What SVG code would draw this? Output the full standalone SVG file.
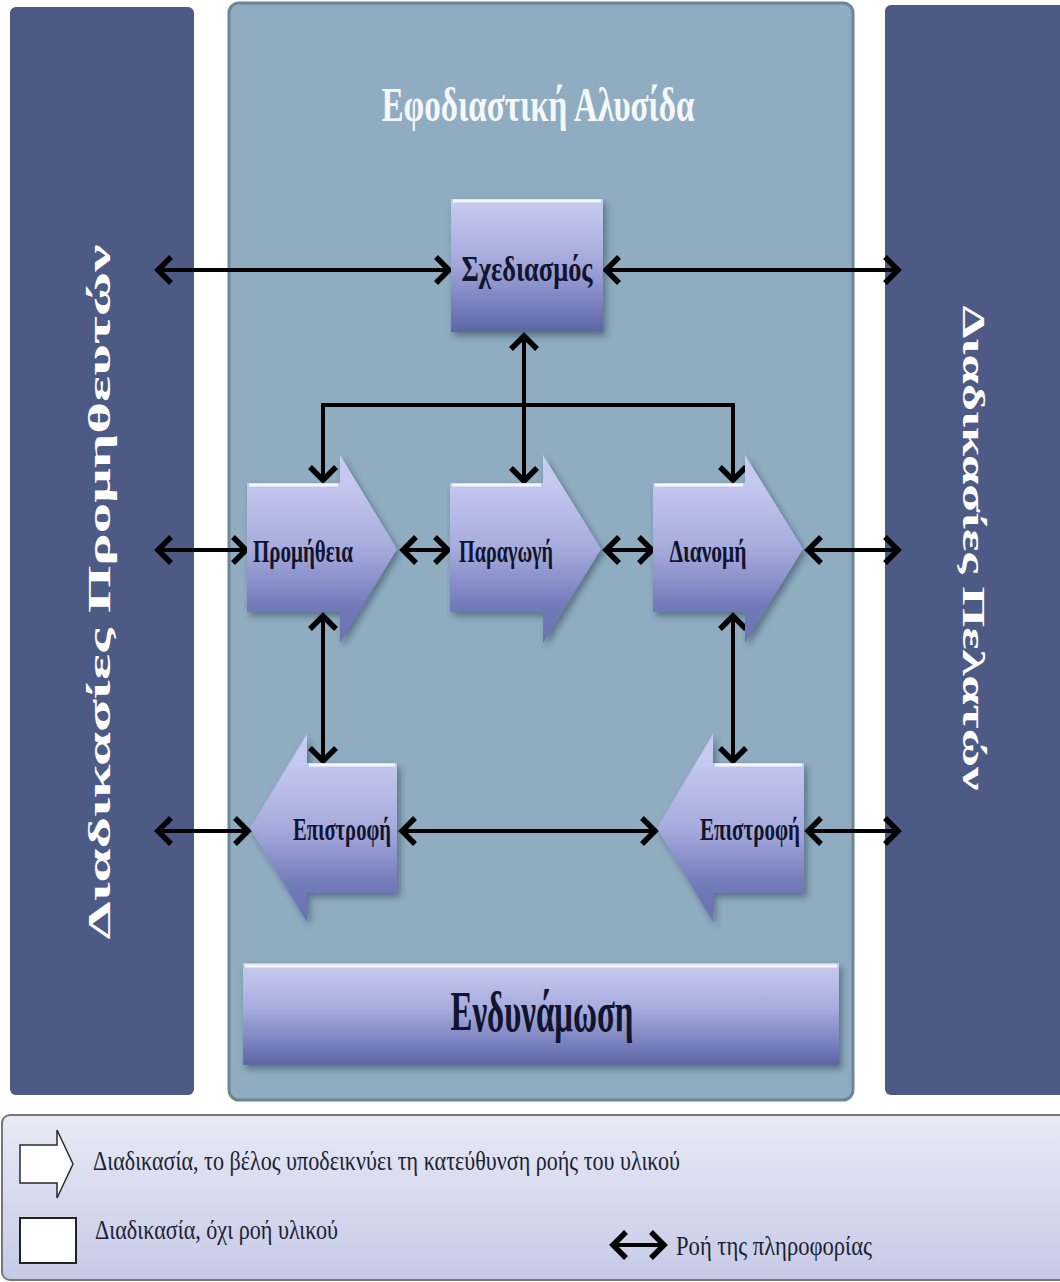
<svg xmlns="http://www.w3.org/2000/svg" width="1060" height="1282" viewBox="0 0 1060 1282">
  <defs>
    <style>
      .side { fill: #4e5a86; }
      .sidetxt { font-family: "Liberation Serif", "DejaVu Serif", serif; font-weight: bold; font-size: 31px; fill: #ffffff; }
      .title { font-family: "Liberation Serif", "DejaVu Serif", serif; font-weight: bold; font-size: 48px; fill: #f4f8fb; }
      .lbl { font-family: "Liberation Serif", "DejaVu Serif", serif; font-weight: bold; font-size: 31px; fill: #10142e; text-anchor: middle; }
      .lbl-m { font-size: 36px; }
      .lbl-l { font-size: 56px; }
      .node { stroke: none; filter: url(#shadow); }
      .hl { stroke: #ffffff; stroke-width: 3; stroke-opacity: 0.85; fill: none; }
      .conn { stroke: #000000; stroke-width: 4; fill: none; marker-start: url(#chev); marker-end: url(#chev); }
      .leg { font-family: "Liberation Serif", "DejaVu Serif", serif; font-size: 27px; fill: #1c1f33; }
    </style>
    <linearGradient id="gBox" x1="0" y1="0" x2="0" y2="1">
      <stop offset="0" stop-color="#c9ccf0"/>
      <stop offset="0.45" stop-color="#a6abdd"/>
      <stop offset="0.85" stop-color="#7178b8"/>
      <stop offset="1" stop-color="#5d66a3"/>
    </linearGradient>
    <linearGradient id="gArrow" x1="0" y1="0" x2="0" y2="1">
      <stop offset="0" stop-color="#c9ccf0"/>
      <stop offset="0.16" stop-color="#c4c7ee"/>
      <stop offset="0.5" stop-color="#a6abdd"/>
      <stop offset="0.8" stop-color="#737ab9"/>
      <stop offset="1" stop-color="#6a72b2"/>
    </linearGradient>
    <linearGradient id="gLegend" x1="0" y1="0" x2="0" y2="1">
      <stop offset="0" stop-color="#e8eaf5"/>
      <stop offset="1" stop-color="#c6cae6"/>
    </linearGradient>
    <filter id="shadow" x="-10%" y="-10%" width="130%" height="130%">
      <feDropShadow dx="3" dy="4" stdDeviation="3" flood-color="#1e2a40" flood-opacity="0.45"/>
    </filter>
    <marker id="chev" markerUnits="userSpaceOnUse" viewBox="0 0 24 34" markerWidth="24" markerHeight="34" refX="19" refY="17" orient="auto-start-reverse" overflow="visible">
      <path d="M6,4 L19,17 L6,30" fill="none" stroke="#000000" stroke-width="5.5" stroke-linejoin="miter"/>
    </marker>
  </defs>

  <rect width="1060" height="1282" fill="#ffffff"/>

  <!-- side panels and main panel -->
  <g id="supplier-panel">
    <rect class="side" x="10" y="7" width="184" height="1088" rx="6"/>
    <text class="sidetxt" transform="translate(110,592) rotate(-90)" text-anchor="middle" textLength="695" lengthAdjust="spacingAndGlyphs">Διαδικασίες  Προμηθευτών</text>
  </g>
  <g id="customer-panel">
    <rect class="side" x="885" y="5" width="190" height="1090" rx="6"/>
    <text class="sidetxt" transform="translate(963,548) rotate(90)" text-anchor="middle" textLength="485" lengthAdjust="spacingAndGlyphs">Διαδικασίες  Πελατών</text>
  </g>
  <g id="supply-chain-panel">
    <rect x="229" y="3" width="624" height="1097" rx="10" fill="#8facc0" stroke="#6b8696" stroke-width="3"/>
    <text class="title" x="538" y="121" text-anchor="middle" textLength="313" lengthAdjust="spacingAndGlyphs">Εφοδιαστική Αλυσίδα</text>
  </g>

  <!-- connectors -->
  <g id="connectors">
    <path class="conn" d="M158,270 H449"/>
    <path class="conn" d="M606,270 H898"/>
    <path class="conn" d="M524,336 V481"/>
    <path class="conn" d="M323,480 V405 H733 V480"/>
    <path class="conn" d="M158,550 H246"/>
    <path class="conn" d="M403,550 H448"/>
    <path class="conn" d="M606,550 H652"/>
    <path class="conn" d="M808,550 H898"/>
    <path class="conn" d="M323,616 V761"/>
    <path class="conn" d="M733,616 V761"/>
    <path class="conn" d="M158,831 H248"/>
    <path class="conn" d="M402,831 H655"/>
    <path class="conn" d="M808,831 H898"/>
  </g>

  <!-- nodes -->
  <g id="node-planning">
    <rect class="node" x="451" y="199" width="152" height="133" fill="url(#gBox)"/>
    <line class="hl" x1="453" y1="201" x2="601" y2="201"/>
    <text class="lbl lbl-m" x="527" y="281" textLength="131" lengthAdjust="spacingAndGlyphs">Σχεδιασμός</text>
  </g>
  <g id="node-procurement">
    <polygon class="node" points="247,483 340,483 340,455 397,549 340,643 340,612 247,612" fill="url(#gArrow)"/>
    <line class="hl" x1="249" y1="485" x2="338" y2="485"/>
    <text class="lbl" x="303" y="562" textLength="100" lengthAdjust="spacingAndGlyphs">Προμήθεια</text>
  </g>
  <g id="node-production">
    <polygon class="node" points="450,483 543,483 543,455 601,549 543,643 543,612 450,612" fill="url(#gArrow)"/>
    <line class="hl" x1="452" y1="485" x2="541" y2="485"/>
    <text class="lbl" x="506" y="562" textLength="94" lengthAdjust="spacingAndGlyphs">Παραγωγή</text>
  </g>
  <g id="node-distribution">
    <polygon class="node" points="653,483 745,483 745,455 803,549 745,643 745,612 653,612" fill="url(#gArrow)"/>
    <line class="hl" x1="655" y1="485" x2="743" y2="485"/>
    <text class="lbl" x="708" y="562" textLength="77" lengthAdjust="spacingAndGlyphs">Διανομή</text>
  </g>
  <g id="node-return-left">
    <polygon class="node" points="250,828 307,734 307,763 397,763 397,893 307,893 307,922" fill="url(#gArrow)"/>
    <line class="hl" x1="309" y1="765" x2="395" y2="765"/>
    <text class="lbl" x="342" y="840" textLength="98" lengthAdjust="spacingAndGlyphs">Επιστροφή</text>
  </g>
  <g id="node-return-right">
    <polygon class="node" points="657,828 713,734 713,763 804,763 804,893 713,893 713,922" fill="url(#gArrow)"/>
    <line class="hl" x1="715" y1="765" x2="802" y2="765"/>
    <text class="lbl" x="750" y="840" textLength="100" lengthAdjust="spacingAndGlyphs">Επιστροφή</text>
  </g>
  <g id="node-enablement">
    <rect class="node" x="243" y="963" width="596" height="102" fill="url(#gBox)"/>
    <line class="hl" x1="245" y1="966" x2="837" y2="966" stroke-width="5"/>
    <text class="lbl lbl-l" x="542" y="1031" textLength="183" lengthAdjust="spacingAndGlyphs">Ενδυνάμωση</text>
  </g>

  <!-- legend -->
  <g id="legend">
    <rect x="2" y="1115" width="1070" height="165" rx="8" fill="url(#gLegend)" stroke="#767680" stroke-width="2"/>
    <polygon points="20,1145 57,1145 57,1130 73,1164 57,1198 57,1183 20,1183" fill="#ffffff" stroke="#2a2a2a" stroke-width="1.5"/>
    <text class="leg" x="93" y="1170" textLength="587" lengthAdjust="spacingAndGlyphs">Διαδικασία, το βέλος υποδεικνύει τη κατεύθυνση ροής του υλικού</text>
    <rect x="20" y="1218" width="56" height="45" fill="#ffffff" stroke="#222222" stroke-width="2"/>
    <text class="leg" x="95" y="1239" textLength="243" lengthAdjust="spacingAndGlyphs">Διαδικασία, όχι ροή υλικού</text>
    <path class="conn" d="M613,1245 H664"/>
    <text class="leg" x="676" y="1255" textLength="196" lengthAdjust="spacingAndGlyphs">Ροή της πληροφορίας</text>
  </g>
</svg>
